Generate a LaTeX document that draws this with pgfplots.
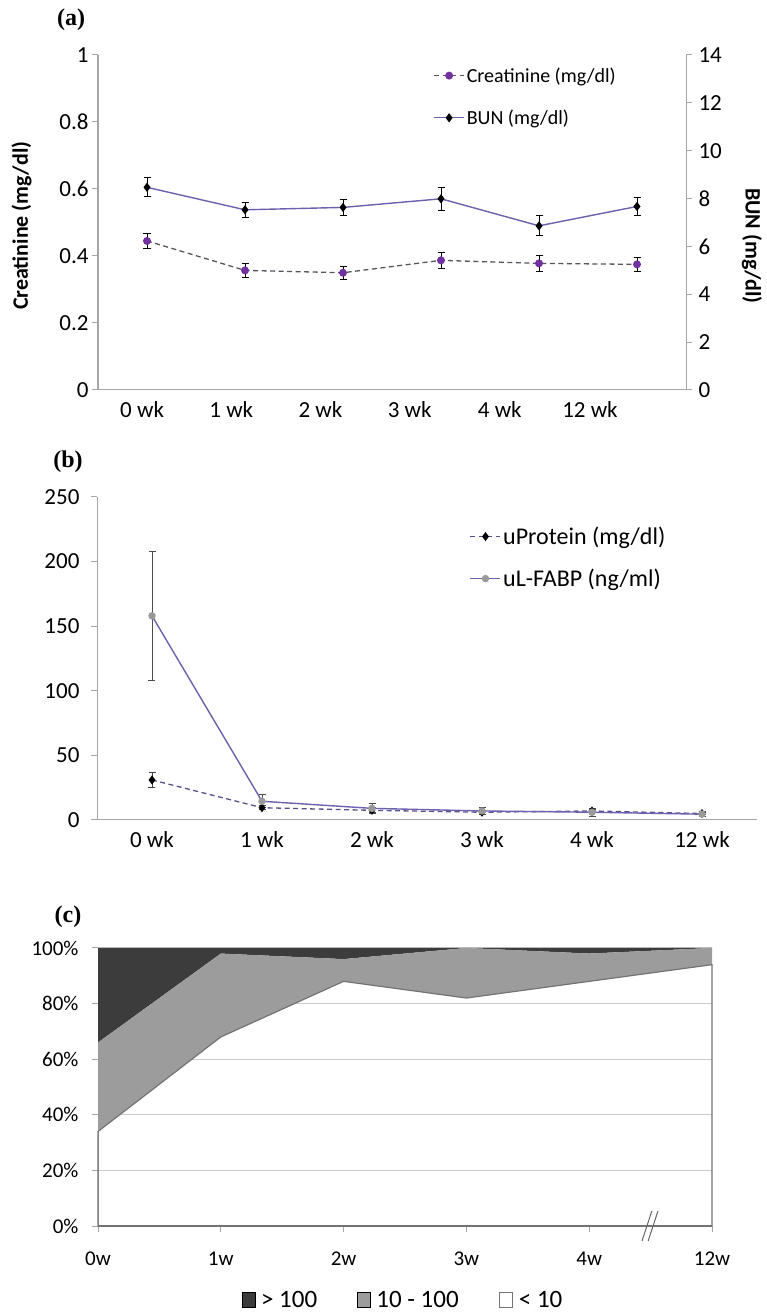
\documentclass[border=0pt]{standalone}
\usepackage{fontspec}
\setmainfont{Carlito}
\newfontfamily\labfont{Liberation Serif}
\usepackage{pgfplots}
\pgfplotsset{compat=1.18}

\definecolor{axgray}{HTML}{A6A6A6}
\definecolor{cpurple}{HTML}{7030A0}
\definecolor{bunline}{HTML}{6A62AE}
\definecolor{dashgray}{HTML}{555560}
\definecolor{dashblue}{HTML}{56508C}
\definecolor{fabpmark}{HTML}{9A9A9A}
\definecolor{darkarea}{HTML}{3C3C3C}
\definecolor{midarea}{HTML}{9C9C9C}

\pgfplotsset{
  every axis/.append style={
    /pgf/number format/assume math mode=true,
    scale only axis,
    axis line style={draw=axgray, line width=1pt},
    tick align=outside,
    major tick length=6pt,
    tick style={draw=axgray, line width=1pt},
  },
  lineleg/.style={legend image code/.code={
    \draw[mark repeat=2, mark phase=2, ##1] plot coordinates {(0pt,0pt) (15pt,0pt) (30pt,0pt)};}},
  xldash/.style={dash pattern=on 5pt off 3.5pt},
}

\begin{document}
\begin{tikzpicture}[x=1pt, y=1pt]
\useasboundingbox (0,0) rectangle (766,1312);

% panel letters
\node[font=\labfont\bfseries\fontsize{24}{28}\selectfont] at (71,1292) {(a)};
\node[font=\labfont\bfseries\fontsize{24}{28}\selectfont] at (68,850) {(b)};
\node[font=\labfont\bfseries\fontsize{24}{28}\selectfont] at (68,395) {(c)};

% ---------- (a) creatinine, left axis ----------
\begin{axis}[
  at={(98pt,922pt)}, anchor=south west,
  width=588pt, height=335pt,
  xmin=-0.5, xmax=5.5, ymin=0, ymax=1,
  axis x line*=bottom, axis y line*=left,
  xtick={-0.05,0.86,1.77,2.68,3.60,4.52},
  xticklabels={0 wk, 1 wk, 2 wk, 3 wk, 4 wk, 12 wk},
  xtick style={draw=none},
  ytick={0,0.2,0.4,0.6,0.8,1},
  ticklabel style={font=\fontsize{23}{27}\selectfont},
  xticklabel style={yshift=-2pt},
  ylabel={\bfseries Creatinine (mg/dl)},
  ylabel style={font=\fontsize{22}{26}\selectfont, at={(axis description cs:-0.13,0.49)}, anchor=center},
]
\addplot[dashgray, xldash, line width=1.3pt, mark=*, mark size=3.3pt,
  mark options={solid, fill=cpurple, draw=cpurple},
  error bars/.cd, y dir=both, y explicit,
  error bar style={black, solid, line width=0.9pt},
  error mark options={rotate=90, mark size=3.5pt, black, line width=0.9pt}]
  table[x=x, y=y, y error=e] {
x y e
0 0.445 0.022
1 0.357 0.020
2 0.350 0.019
3 0.387 0.023
4 0.378 0.023
5 0.375 0.022
};
\end{axis}

% ---------- (a) BUN, right axis ----------
\begin{axis}[
  at={(98pt,922pt)}, anchor=south west,
  width=588pt, height=335pt,
  xmin=-0.5, xmax=5.5, ymin=0, ymax=14,
  axis x line=none, axis y line*=right,
  ytick={0,2,...,14},
  ticklabel style={font=\fontsize{23}{27}\selectfont},
  yticklabel style={xshift=3pt},
  ylabel={\bfseries BUN (mg/dl)},
  ylabel style={font=\fontsize{22}{26}\selectfont, at={(axis description cs:1.112,0.43)}, anchor=center, rotate=180},
  lineleg,
  legend style={at={(axis description cs:0.565,0.975)}, anchor=north west, draw=none, fill=none,
    font=\fontsize{20}{24}\selectfont, row sep=22pt},
  legend cell align=left,
]
\addlegendimage{dashgray, xldash, line width=1.3pt, mark=*, mark size=3.3pt, mark options={solid, fill=cpurple, draw=cpurple}}
\addlegendentry{Creatinine (mg/dl)}
\addplot[bunline, line width=1.4pt, mark=diamond*, mark size=3.5pt,
  mark options={fill=black, draw=black},
  error bars/.cd, y dir=both, y explicit,
  error bar style={black, line width=0.9pt},
  error mark options={rotate=90, mark size=3.5pt, black, line width=0.9pt}]
  table[x=x, y=y, y error=e] {
x y e
0 8.47 0.40
1 7.53 0.30
2 7.63 0.35
3 7.99 0.47
4 6.86 0.42
5 7.67 0.36
};
\addlegendentry{BUN (mg/dl)}
\end{axis}

% ---------- (b) ----------
\begin{axis}[
  at={(97pt,492pt)}, anchor=south west,
  width=660pt, height=323pt,
  xmin=-0.5, xmax=5.5, ymin=0, ymax=250,
  axis x line*=bottom, axis y line*=left,
  xtick={0,1,2,3,4,5},
  xticklabels={0 wk, 1 wk, 2 wk, 3 wk, 4 wk, 12 wk},
  xtick style={draw=none},
  ytick={0,50,...,250},
  ticklabel style={font=\fontsize{23}{27}\selectfont},
  yticklabel style={xshift=-8pt},
  xticklabel style={yshift=-2pt},
  lineleg,
  legend style={at={(axis description cs:0.56,0.92)}, anchor=north west, draw=none, fill=none,
    font=\fontsize{24}{28}\selectfont, row sep=19pt},
  legend cell align=left,
]
\addplot[dashblue, xldash, line width=1.3pt, mark=diamond*, mark size=3.5pt,
  mark options={solid, fill=black, draw=black},
  error bars/.cd, y dir=both, y explicit,
  error bar style={black!75, solid, line width=0.9pt},
  error mark options={rotate=90, mark size=3.5pt, black!75, line width=0.9pt}]
  table[x=x, y=y, y error=e] {
x y e
0 31 5.5
1 9.5 1.5
2 7.5 2
3 6 1.5
4 7 1.5
5 5 1
};
\addlegendentry{uProtein (mg/dl)}
\addplot[bunline, line width=1.4pt, mark=*, mark size=3pt,
  mark options={fill=fabpmark, draw=fabpmark},
  error bars/.cd, y dir=both, y explicit,
  error bar style={black!70, line width=0.9pt},
  error mark options={rotate=90, mark size=3.5pt, black!70, line width=0.9pt}]
  table[x=x, y=y, y error=e] {
x y e
0 158 50
1 14.5 5
2 9 4
3 7 3
4 6 3
5 4.5 2
};
\addlegendentry{uL-FABP (ng/ml)}
\end{axis}

% ---------- (c) ----------
\begin{axis}[
  at={(98pt,86pt)}, anchor=south west,
  width=614pt, height=278pt,
  xmin=0, xmax=5, ymin=0, ymax=100,
  clip=false,
  axis x line*=bottom, axis y line*=left,
  x axis line style={draw=black!55, line width=2pt},
  xtick={0,1,2,3,4,5},
  xticklabels={0w, 1w, 2w, 3w, 4w, 12w},
  ytick={0,20,...,100},
  yticklabels={0\%, 20\%, 40\%, 60\%, 80\%, 100\%},
  ymajorgrids, grid style={draw=black!20, line width=1pt},
  ticklabel style={font=\fontsize{21}{25}\selectfont},
  xticklabel style={yshift=-16pt},
  yticklabel style={xshift=-10pt},
  stack plots=y,
  area legend,
  legend image code/.code={\draw[#1] (0pt,-7pt) rectangle (13pt,8pt); \path (17pt,0pt);},
  reverse legend,
  legend columns=3,
  legend style={at={(axis description cs:0.497,-0.268)}, anchor=center, draw=none, fill=none,
    font=\fontsize{25}{29}\selectfont,
    /tikz/every even column/.append style={column sep=38pt}},
]
\addplot[draw=black!55, fill=none, line width=1.2pt] coordinates
  {(0,34) (1,68) (2,88) (3,82) (4,88) (5,94)} \closedcycle;
\addlegendentry{< 10}
\addplot[draw=none, fill=midarea] coordinates
  {(0,32) (1,30) (2,8) (3,18) (4,10) (5,6)} \closedcycle;
\addlegendentry{10 - 100}
\addplot[draw=none, fill=darkarea] coordinates
  {(0,34) (1,2) (2,4) (3,0) (4,2) (5,0)} \closedcycle;
\addlegendentry{> 100}
\draw[black!60, line width=1pt] (axis cs:4.43,-5.4) -- (axis cs:4.51,5.4);
\draw[black!60, line width=1pt] (axis cs:4.48,-5.4) -- (axis cs:4.56,5.4);
\end{axis}
\end{tikzpicture}
\end{document}
